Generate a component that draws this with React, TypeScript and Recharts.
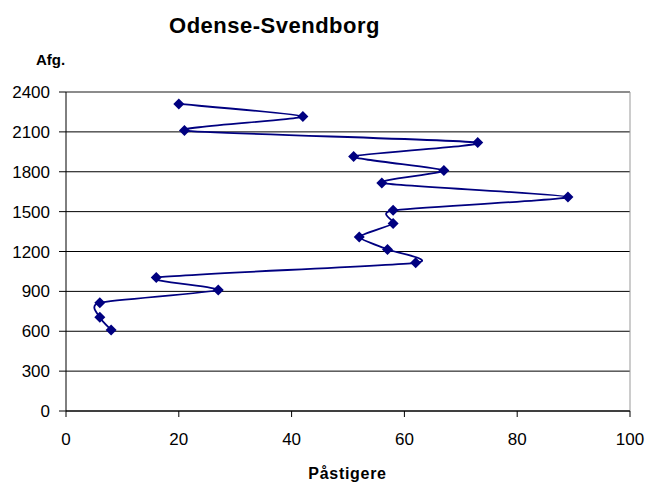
import React from 'react';
import { LineChart, Line, XAxis, YAxis, CartesianGrid, ReferenceLine } from 'recharts';

// Påstigere (x) per departure time (Afg., y)
const passengers = [8, 6, 6, 27, 16, 62, 57, 52, 58, 58, 89, 56, 67, 51, 73, 21, 42, 20];
const departures = [610, 705, 815, 910, 1005, 1115, 1215, 1310, 1410, 1510, 1610, 1715, 1810, 1915, 2020, 2110, 2215, 2310];
const xTicks = [0, 20, 40, 60, 80, 100];
const yTicks = [0, 300, 600, 900, 1200, 1500, 1800, 2100, 2400];

const data = passengers.map((p, i) => ({ x: p, y: departures[i] }));

const navy = '#000080';
const font = '"Liberation Sans", Arial, sans-serif';

// Excel-style smoothed line (soft cardinal spline through every point)
const smoothCurve = (context: any) => {
  let pts: number[][] = [];
  const k = 10;
  return {
    areaStart() {},
    areaEnd() {},
    lineStart() {
      pts = [];
    },
    lineEnd() {
      if (!pts.length) return;
      context.moveTo(pts[0][0], pts[0][1]);
      for (let i = 0; i < pts.length - 1; i++) {
        const p0 = pts[Math.max(i - 1, 0)];
        const p1 = pts[i];
        const p2 = pts[i + 1];
        const p3 = pts[Math.min(i + 2, pts.length - 1)];
        context.bezierCurveTo(
          p1[0] + (p2[0] - p0[0]) / k, p1[1] + (p2[1] - p0[1]) / k,
          p2[0] - (p3[0] - p1[0]) / k, p2[1] - (p3[1] - p1[1]) / k,
          p2[0], p2[1]
        );
      }
    },
    point(x: number, y: number) {
      pts.push([x, y]);
    },
  };
};

const Diamond = (props: any) => {
  const { cx, cy, index } = props;
  const r = 5.5;
  return (
    <path
      key={`dot-${index}`}
      d={`M${cx},${cy - r}L${cx + r},${cy}L${cx},${cy + r}L${cx - r},${cy}Z`}
      fill={navy}
    />
  );
};

export default function App() {
  return (
    <div style={{ position: 'absolute', left: 0, top: 0, width: 651, height: 486, background: '#fff', fontFamily: font }}>
      <LineChart width={651} height={486} data={data} margin={{ top: 92, right: 21, bottom: 0, left: 0 }}>
        <CartesianGrid vertical={false} stroke="#000" />
        <XAxis
          type="number"
          dataKey="x"
          domain={[0, 100]}
          ticks={xTicks}
          interval={0}
          height={75}
          tickSize={6}
          tickMargin={16}
          axisLine={{ stroke: '#000' }}
          tickLine={{ stroke: '#000' }}
          tick={{ fill: '#000', fontSize: 17, fontFamily: font }}
        />
        <YAxis
          type="number"
          domain={[0, 2400]}
          ticks={yTicks}
          interval={0}
          width={66}
          tickSize={7}
          tickMargin={9}
          axisLine={{ stroke: '#000' }}
          tickLine={{ stroke: '#000' }}
          tick={{ fill: '#000', fontSize: 17, fontFamily: font }}
        />
        <ReferenceLine y={2400} stroke="#999" />
        <ReferenceLine x={100} stroke="#999" />
        <Line
          dataKey="y"
          type={smoothCurve as any}
          stroke={navy}
          strokeWidth={1.8}
          dot={(p: any) => <Diamond {...p} />}
          activeDot={false}
          isAnimationActive={false}
        />
      </LineChart>
      <svg width={651} height={486} style={{ position: 'absolute', left: 0, top: 0, pointerEvents: 'none' }}>
        <text x={274.5} y={33} textAnchor="middle" fontSize={22} fontWeight="bold" letterSpacing={0.5} fontFamily={font}>
          Odense-Svendborg
        </text>
        <text x={36} y={65} fontSize={15} fontWeight="bold" fontFamily={font}>
          Afg.
        </text>
        <text x={347.5} y={479} textAnchor="middle" fontSize={16} fontWeight="bold" letterSpacing={0.7} fontFamily={font}>
          Påstigere
        </text>
      </svg>
    </div>
  );
}
